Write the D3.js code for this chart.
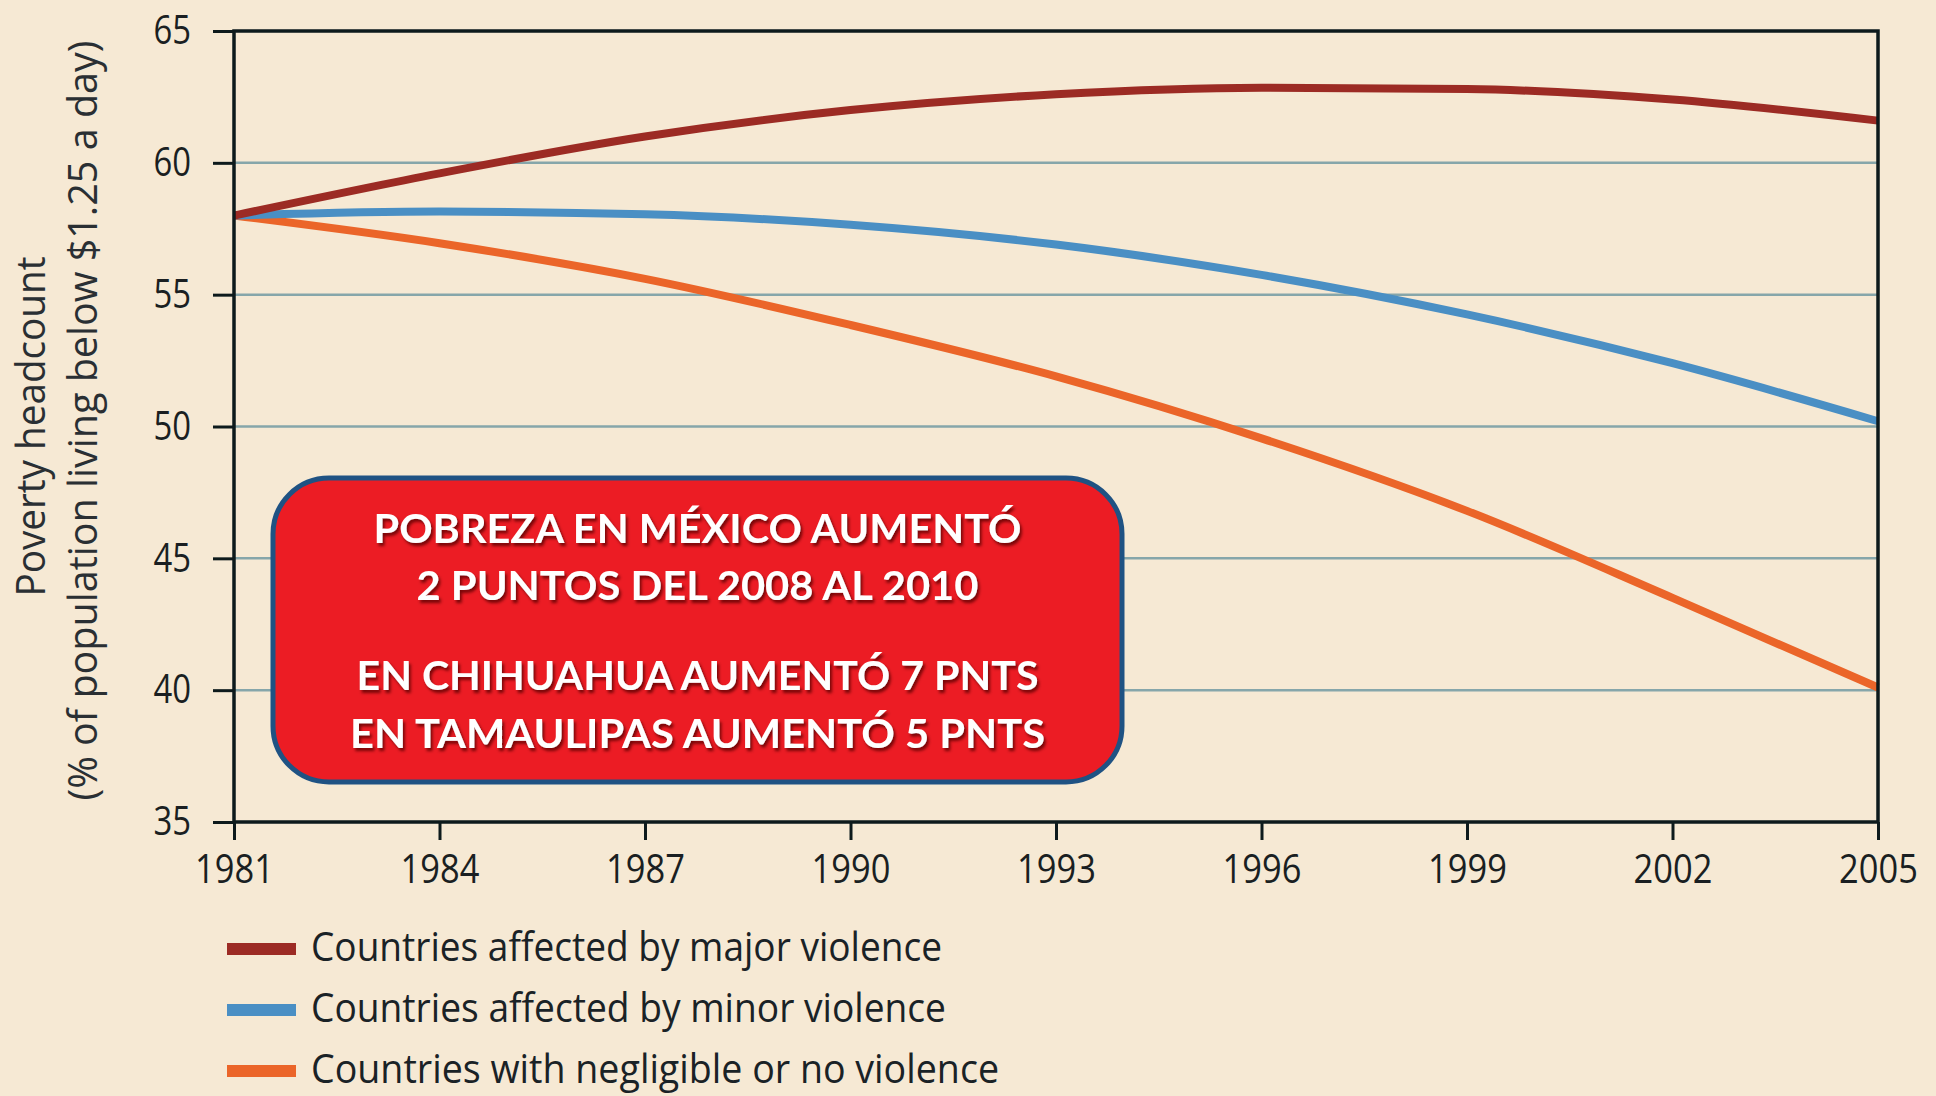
<!DOCTYPE html>
<html><head><meta charset="utf-8">
<script src="https://cdn.jsdelivr.net/npm/d3@7"></script>
<style>
html,body{margin:0;padding:0;background:#f6e9d4;}
svg{display:block;}
</style></head>
<body>
<svg id="chart" width="1936" height="1096"></svg>
<script>
const years = [1981,1984,1987,1990,1993,1996,1999,2002,2005];
const majorViolence = [58.0,59.6,61.0,62.0,62.6,62.85,62.8,62.4,61.6];
const minorViolence = [58.0,58.15,58.05,57.65,56.9,55.75,54.25,52.4,50.2];
const noViolence    = [58.0,56.95,55.6,53.85,51.9,49.55,46.8,43.5,40.1];
const seriesNames = ["Countries affected by major violence","Countries affected by minor violence","Countries with negligible or no violence"];
const yTicks = [35,40,45,50,55,60,65];
const gridValues = [40,45,50,55,60];
const yTitle = ["Poverty headcount","(% of population living below $1.25 a day)"];
const boxLines = ["POBREZA EN MÉXICO AUMENTÓ","2 PUNTOS DEL 2008 AL 2010","EN CHIHUAHUA AUMENTÓ 7 PNTS","EN TAMAULIPAS AUMENTÓ 5 PNTS"];

const colors = ["#9c2b24","#4a8fc4","#eb6529"];
const svg = d3.select("#chart");
const L=234,R=1878,T=31,B=822;
const x = d3.scaleLinear().domain([1981,2005]).range([L,R]);
const y = d3.scaleLinear().domain([35,65]).range([B,T]);

svg.append("rect").attr("width",1936).attr("height",1096).attr("fill","#f6e9d4");

function squeeze(sel, f){
  sel.each(function(){
    const w=this.getComputedTextLength();
    d3.select(this).attr("textLength",w*f).attr("lengthAdjust","spacingAndGlyphs");
  });
}

// grid
svg.append("g").selectAll("line").data(gridValues).join("line")
  .attr("x1",L).attr("x2",R).attr("y1",d=>y(d)).attr("y2",d=>y(d))
  .attr("stroke","#86a6aa").attr("stroke-width",2.5);

// lines
const line = d3.line().x((d,i)=>x(years[i])).y(d=>y(d)).curve(d3.curveMonotoneX);
const allSeries=[noViolence,minorViolence,majorViolence];
const allColors=[colors[2],colors[1],colors[0]];
allSeries.forEach((s,i)=>{
  svg.append("path").attr("d",line(s)).attr("fill","none")
    .attr("stroke",allColors[i]).attr("stroke-width",8).attr("stroke-linecap","butt");
});

// frame
const frame = svg.append("g").attr("stroke","#0d1a1c").attr("stroke-width",3.5).attr("fill","none");
frame.append("rect").attr("x",L).attr("y",T).attr("width",R-L).attr("height",B-T);

// y axis
const yAxis = d3.axisLeft(y).tickValues(yTicks).tickSize(21).tickPadding(22).tickFormat(d3.format("d"));
const gy = svg.append("g").attr("transform",`translate(${L},0)`).call(yAxis);
gy.select(".domain").remove();
gy.selectAll(".tick line").attr("stroke","#0d1a1c").attr("stroke-width",3);
gy.selectAll(".tick text").attr("font-family","'Open Sans',sans-serif").attr("font-size",40)
  .attr("fill","#1a1f22").attr("dy","0.32em");
squeeze(gy.selectAll(".tick text"),0.82);

// x axis
const xAxis = d3.axisBottom(x).tickValues(years).tickSize(18).tickPadding(14).tickFormat(d3.format("d"));
const gx = svg.append("g").attr("transform",`translate(0,${B})`).call(xAxis);
gx.select(".domain").remove();
gx.selectAll(".tick line").attr("stroke","#0d1a1c").attr("stroke-width",3);
gx.selectAll(".tick text").attr("font-family","'Open Sans',sans-serif").attr("font-size",41)
  .attr("fill","#1a1f22");
squeeze(gx.selectAll(".tick text"),0.84);

// y title
const cy=(T+B)/2;
svg.append("text").attr("transform",`translate(45,${cy}) rotate(-90)`)
  .attr("text-anchor","middle").attr("font-family","'Open Sans',sans-serif").attr("font-size",40)
  .attr("fill","#2a2f33").text(yTitle[0]).attr("textLength",340).attr("lengthAdjust","spacingAndGlyphs");
svg.append("text").attr("transform",`translate(97,${cy-6}) rotate(-90)`)
  .attr("text-anchor","middle").attr("font-family","'Open Sans',sans-serif").attr("font-size",40)
  .attr("fill","#2a2f33").text(yTitle[1]).attr("textLength",760).attr("lengthAdjust","spacingAndGlyphs");

// legend
const leg = svg.append("g");
const legY=[949,1010,1071];
const legW=[631,635,688];
seriesNames.forEach((n,i)=>{
  leg.append("line").attr("x1",227).attr("x2",296).attr("y1",legY[i]).attr("y2",legY[i])
    .attr("stroke",colors[i]).attr("stroke-width",12);
  leg.append("text").attr("x",311).attr("y",legY[i]+12).attr("font-family","'Open Sans',sans-serif")
    .attr("font-size",41).attr("fill","#1a2226").text(n)
    .attr("textLength",legW[i]).attr("lengthAdjust","spacingAndGlyphs");
});

// annotation box
const defs = svg.append("defs");
const f = defs.append("filter").attr("id","ts").attr("x","-5%").attr("y","-20%").attr("width","110%").attr("height","140%");
f.append("feDropShadow").attr("dx",2).attr("dy",3).attr("stdDeviation",1.5).attr("flood-color","#5a0000").attr("flood-opacity",0.8);
svg.append("rect").attr("x",273).attr("y",478).attr("width",849).attr("height",304).attr("rx",56).attr("ry",56)
  .attr("fill","#ec1c24").attr("stroke","#1f5283").attr("stroke-width",5);
const boxY=[543,600,690,748];
const boxW=[648,562,682,695];
boxLines.forEach((s,i)=>{
  svg.append("text").attr("x",697.5).attr("y",boxY[i]).attr("text-anchor","middle")
    .attr("font-family","Lato,'Open Sans',sans-serif").attr("font-weight","bold").attr("font-size",41)
    .attr("fill","#ffffff").attr("filter","url(#ts)").text(s)
    .attr("textLength",boxW[i]).attr("lengthAdjust","spacingAndGlyphs");
});
</script>
</body></html>
